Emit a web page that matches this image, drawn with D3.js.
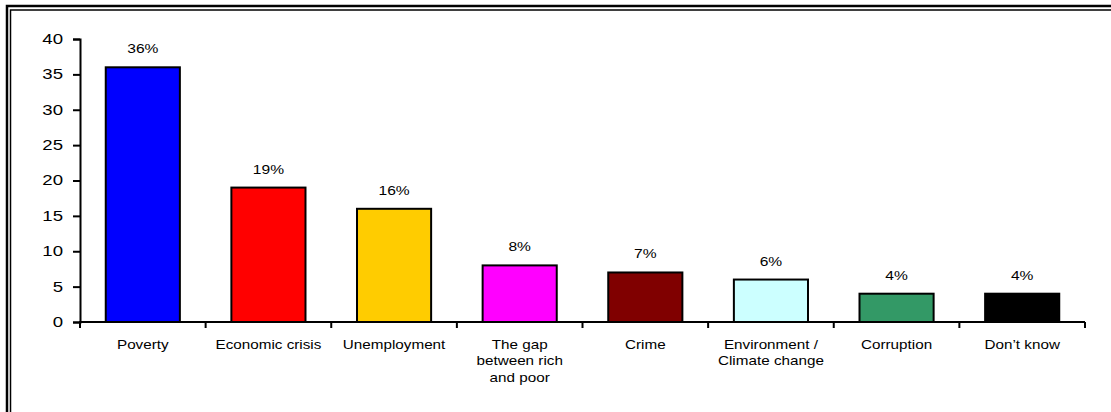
<!DOCTYPE html>
<html>
<head>
<meta charset="utf-8">
<script src="https://cdn.jsdelivr.net/npm/d3@7"></script>
<style>
  body { margin: 0; background: #fff; }
  svg { display: block; font-family: "Liberation Sans", Arial, sans-serif; }
</style>
</head>
<body>
<svg id="chart" width="1111" height="412"></svg>
<script>
// data
const categories = ["Poverty", "Economic crisis", "Unemployment", "The gap|between rich|and poor",
  "Crime", "Environment /|Climate change", "Corruption", "Don\u2019t know"];
const values = [36, 19, 16, 8, 7, 6, 4, 4];
const colors = ["#0000ff", "#ff0000", "#ffcc00", "#ff00ff", "#800000", "#ccffff", "#339966", "#000000"];
const yTicks = [0, 5, 10, 15, 20, 25, 30, 35, 40];

const svg = d3.select("#chart");

// the original picture is stretched sideways, so the text is too
const stretch = 1.3;

// double frame, running off the right and bottom edge
svg.append("rect").attr("x", 7).attr("y", 6).attr("width", 1200).attr("height", 500)
  .attr("fill", "none").attr("stroke", "#000").attr("stroke-width", 2.5);
svg.append("rect").attr("x", 10.5).attr("y", 10).attr("width", 1200).attr("height", 500)
  .attr("fill", "none").attr("stroke", "#000").attr("stroke-width", 1.5);

const plotLeft = 80, plotRight = 1085, plotTop = 39, plotBottom = 322;

const x = d3.scaleBand().domain(d3.range(categories.length)).range([plotLeft, plotRight])
  .paddingInner(0.41).paddingOuter(0.205);
const y = d3.scaleLinear().domain([0, 40]).range([plotBottom, plotTop]);

// bars
svg.selectAll("rect.bar")
  .data(values)
  .enter().append("rect")
  .attr("class", "bar")
  .attr("x", (d, i) => x(i))
  .attr("y", d => y(d))
  .attr("width", x.bandwidth())
  .attr("height", d => y(0) - y(d))
  .attr("fill", (d, i) => colors[i])
  .attr("stroke", "#000")
  .attr("stroke-width", 2);

// value labels
svg.selectAll("g.val")
  .data(values)
  .enter().append("g")
  .attr("class", "val")
  .attr("transform", (d, i) => `translate(${x(i) + x.bandwidth() / 2},${y(d) - 14}) scale(${stretch},1)`)
  .append("text")
  .attr("text-anchor", "middle")
  .attr("font-size", 12)
  .text(d => d + "%");

// y axis
const yAxis = svg.append("g").attr("transform", `translate(${plotLeft},0)`)
  .call(d3.axisLeft(y).tickValues(yTicks).tickSize(7).tickPadding(10));
yAxis.select(".domain").attr("stroke-width", 2);
yAxis.selectAll(".tick line").attr("stroke-width", 2);
yAxis.selectAll("text")
  .attr("x", -17 / 1.33)
  .attr("transform", "scale(1.33,1)")
  .attr("font-size", 14)
  .attr("font-family", "Liberation Sans, Arial, sans-serif")
  .attr("fill", "#000");

// x axis line and ticks between categories
const xEdges = d3.range(categories.length + 1).map(i => plotLeft + i * (plotRight - plotLeft) / categories.length);
svg.append("line").attr("x1", plotLeft - 1).attr("x2", plotRight).attr("y1", plotBottom).attr("y2", plotBottom)
  .attr("stroke", "#000").attr("stroke-width", 2);
svg.selectAll("line.xt")
  .data(xEdges)
  .enter().append("line")
  .attr("class", "xt")
  .attr("x1", d => d).attr("x2", d => d)
  .attr("y1", plotBottom).attr("y2", plotBottom + 6)
  .attr("stroke", "#000").attr("stroke-width", 2);

// category labels
svg.selectAll("g.cat")
  .data(categories)
  .enter().append("g")
  .attr("class", "cat")
  .attr("transform", (d, i) => `translate(${x(i) + x.bandwidth() / 2},${plotBottom + 27}) scale(1.22,1)`)
  .each(function(d) {
    const t = d3.select(this).append("text")
      .attr("text-anchor", "middle")
      .attr("font-size", 12.5);
    d.split("|").forEach((line, k) => {
      t.append("tspan")
        .attr("x", 0)
        .attr("dy", k === 0 ? 0 : 16.5)
        .text(line);
    });
  });
</script>
</body>
</html>
